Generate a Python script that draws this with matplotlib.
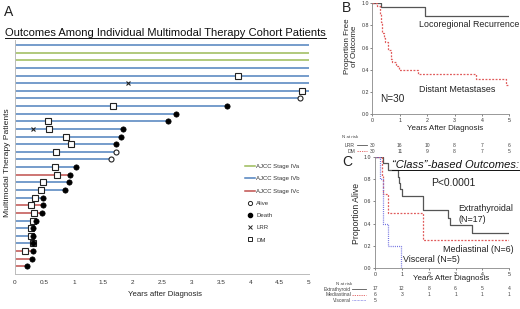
import numpy as np
import matplotlib
matplotlib.use('Agg')
import matplotlib.pyplot as plt
import matplotlib.transforms as mtrans
from matplotlib.lines import Line2D

plt.rcParams['font.family'] = ['Liberation Sans', 'DejaVu Sans']

# ---------------- Panel A data (rows top -> bottom) ----------------
stage = ['IVb', 'IVa', 'IVa', 'IVb', 'IVb', 'IVb', 'IVb', 'IVb', 'IVb', 'IVb',
         'IVb', 'IVb', 'IVb', 'IVb', 'IVb', 'IVb', 'IVb', 'IVc', 'IVb', 'IVb',
         'IVb', 'IVc', 'IVc', 'IVb', 'IVb', 'IVb', 'IVb', 'IVc', 'IVc', 'IVc']
follow_up = [5, 5, 5, 5, 5, 5, 5, 4.85, 3.60, 2.74,
             2.61, 1.84, 1.80, 1.72, 1.72, 1.64, 1.04, 0.94, 0.91, 0.85,
             0.48, 0.47, 0.46, 0.35, 0.31, 0.31, 0.31, 0.30, 0.29, 0.20]
outcome = ['none'] * 7 + ['alive', 'death', 'death', 'death', 'death', 'death', 'death',
                          'alive', 'alive'] + ['death'] * 14
nan = np.nan
dm_time = [nan, nan, nan, nan, 3.80, nan, 4.88, nan, 1.66, nan,
           0.56, 0.58, 0.87, 0.96, 0.69, nan, 0.68, 0.72, 0.48, 0.44,
           0.34, 0.28, 0.33, 0.31, 0.27, 0.27, 0.30, 0.17, nan, nan]
lrr_time = [nan, nan, nan, nan, nan, 1.93, nan, nan, nan, nan,
            nan, 0.31, nan, nan, nan, nan, nan, nan, nan, nan,
            nan, nan, nan, nan, nan, nan, nan, nan, nan, nan]
xticks_A = [0, 0.5, 1, 1.5, 2, 2.5, 3, 3.5, 4, 4.5, 5]

# ---------------- Panel B data ----------------
lrr_t = [0, 0.31, 1.93, 5.0]
lrr_s = [1.0, 0.967, 0.88, 0.88]
dm_t = [0, 0.17, 0.27, 0.30, 0.34, 0.44, 0.48, 0.57, 0.68, 0.72, 0.87, 0.96, 1.66, 3.80, 4.88, 5.0]
dm_s = [1.0, 0.97, 0.90, 0.83, 0.73, 0.69, 0.65, 0.58, 0.50, 0.47, 0.43, 0.40, 0.36, 0.32, 0.26, 0.26]
risk_years = [0, 1, 2, 3, 4, 5]
risk_lrr = [30, 16, 10, 8, 7, 6]
risk_dm = [30, 11, 9, 8, 7, 5]

# ---------------- Panel C data ----------------
ext_t = [0, 0.31, 0.47, 0.84, 0.88, 0.92, 0.99, 1.80, 2.70, 2.78, 3.60, 5.0]
ext_s = [1.0, 0.94, 0.88, 0.82, 0.76, 0.71, 0.65, 0.52, 0.45, 0.39, 0.32, 0.32]
med_t = [0, 0.27, 0.31, 0.47, 1.80, 5.0]
med_s = [1.0, 0.83, 0.67, 0.50, 0.25, 0.25]
vis_t = [0, 0.20, 0.30, 0.47, 0.96]
vis_s = [1.0, 0.80, 0.40, 0.20, 0.0]
risk_ext = [17, 12, 8, 6, 5, 4]
risk_med = [6, 3, 1, 1, 1, 1]
risk_vis = [5]

W, H = 520, 309
fig = plt.figure(figsize=(W / 100, H / 100), dpi=100)
fig.patch.set_facecolor('white')


def ax_px(l, t, r, b):
    return fig.add_axes([l / W, 1 - b / H, (r - l) / W, (b - t) / H])


def fx(px):
    return px / W


def fy(py):
    return 1 - py / H


stage_colors = {'IVa': '#9BBB59', 'IVb': '#4F81BD', 'IVc': '#C0504D'}

# ================= Panel A =================
axA = ax_px(15, 40, 309, 274)
n = len(stage)
ypos = [n - i for i in range(n)]
for i in range(n):
    axA.plot([0, follow_up[i]], [ypos[i], ypos[i]], color=stage_colors[stage[i]],
             lw=1.1, solid_capstyle='butt', zorder=1)
for i in range(n):
    if not np.isnan(dm_time[i]):
        axA.plot(dm_time[i], ypos[i], marker='s', ms=4.2, mfc='white', mec='#222222',
                 mew=0.8, zorder=3, clip_on=False)
    if not np.isnan(lrr_time[i]):
        axA.plot(lrr_time[i], ypos[i], marker='x', ms=3.5, mec='#222222', mew=0.8,
                 zorder=3, clip_on=False)
    if outcome[i] == 'alive':
        axA.plot(follow_up[i], ypos[i], marker='o', ms=3.6, mfc='white', mec='#222222',
                 mew=0.8, zorder=4, clip_on=False)
    elif outcome[i] == 'death':
        axA.plot(follow_up[i], ypos[i], marker='o', ms=3.8, mfc='black', mec='black',
                 mew=0.5, zorder=4, clip_on=False)
axA.set_xlim(0, 5)
axA.set_ylim(0, 30.65)
axA.set_yticks([])
axA.set_xticks(xticks_A)
axA.set_xticklabels([('%g' % v) for v in xticks_A])
axA.tick_params(axis='x', length=0, pad=4, labelsize=4.6, labelcolor='#333333')
for s in ['top', 'right']:
    axA.spines[s].set_visible(False)
axA.spines['left'].set_color('#BBBBBB')
axA.spines['bottom'].set_color('#BBBBBB')
axA.spines['left'].set_linewidth(0.7)
axA.spines['bottom'].set_linewidth(0.7)
axA.patch.set_alpha(0)

fig.text(fx(164.5), fy(294), 'Years after Diagnosis', ha='center', va='center',
         fontsize=5.6, color='#222222')
fig.text(fx(8), fy(163), 'Multimodal Therapy Patients', ha='center', va='center',
         rotation=90, fontsize=6.1, color='#222222')
fig.text(fx(4), fy(12), 'A', ha='left', va='center', fontsize=10, color='#222222')
titleA = fig.text(fx(5), fy(33), 'Outcomes Among Individual Multimodal Therapy Cohort Patients',
                  ha='left', va='center', fontsize=8, color='#111111')

handles = [
    Line2D([], [], color=stage_colors['IVa'], lw=1.1),
    Line2D([], [], color=stage_colors['IVb'], lw=1.1),
    Line2D([], [], color=stage_colors['IVc'], lw=1.1),
    Line2D([], [], ls='none', marker='o', ms=3.0, mfc='white', mec='#222222', mew=0.7),
    Line2D([], [], ls='none', marker='o', ms=3.0, mfc='black', mec='black'),
    Line2D([], [], ls='none', marker='x', ms=3.0, mec='#222222', mew=0.7),
    Line2D([], [], ls='none', marker='s', ms=3.4, mfc='white', mec='#222222', mew=0.7),
]
labels = ['AJCC Stage IVa', 'AJCC Stage IVb', 'AJCC Stage IVc', 'Alive', 'Death', 'LRR', 'DM']
leg = fig.legend(handles, labels, loc='upper left', bbox_to_anchor=(fx(245), fy(164)),
                 frameon=False, fontsize=4.3, handlelength=1.7, handletextpad=0.2,
                 labelspacing=1.18, borderpad=0, borderaxespad=0)
for t in leg.get_texts():
    t.set_color('#333333')


def style_km(ax):
    ax.set_xticks(risk_years)
    ax.set_yticks([0, 0.2, 0.4, 0.6, 0.8, 1.0])
    ax.set_yticklabels(['0.0', '0.2', '0.4', '0.6', '0.8', '1.0'])
    ax.tick_params(labelsize=3.8, length=1.5, width=0.5, pad=1, colors='#555555',
                   labelcolor='#333333')
    for s in ['top', 'right']:
        ax.spines[s].set_visible(False)
    for s in ['left', 'bottom']:
        ax.spines[s].set_color('#888888')
        ax.spines[s].set_linewidth(0.6)
    ax.patch.set_alpha(0)


# ================= Panel B =================
axB = ax_px(372.3, 3, 509.3, 114.3)
axB.step(lrr_t, lrr_s, where='post', color='#555555', lw=0.9)
axB.step(dm_t, dm_s, where='post', color='#E05A5A', lw=0.9, ls=(0, (1.5, 1.2)))
axB.set_xlim(0, 5)
axB.set_ylim(0, 1)
style_km(axB)

fig.text(fx(342), fy(8), 'B', ha='left', va='center', fontsize=10, color='#222222')
fig.text(fx(351), fy(46), 'Proportion Free\nof Outcome', ha='center', va='center',
         rotation=90, fontsize=5.8, color='#222222', linespacing=1.0)
fig.text(fx(445), fy(128), 'Years After Diagnosis', ha='center', va='center',
         fontsize=5.8, color='#222222')
fig.text(fx(419.3), fy(24.5), 'Locoregional Recurrence', ha='left', va='center',
         fontsize=6.4, color='#222222')
fig.text(fx(419.3), fy(89.3), 'Distant Metastases', ha='left', va='center',
         fontsize=6.4, color='#222222')
fig.text(fx(380), fy(99.3), 'N=30', ha='left', va='center', fontsize=7.2, color='#222222')

trB = mtrans.blended_transform_factory(axB.transData, fig.transFigure)
fig.text(fx(342), fy(136.5), 'N at risk', ha='left', va='center', fontsize=3.2, color='#444444')
fig.text(fx(355), fy(145.3), 'LRR', ha='right', va='center', fontsize=3.6, color='#444444')
fig.text(fx(355), fy(151), 'DM', ha='right', va='center', fontsize=3.6, color='#444444')
fig.add_artist(Line2D([fx(357), fx(367)], [fy(145.3)] * 2, transform=fig.transFigure,
                      color='#555555', lw=0.6))
fig.add_artist(Line2D([fx(357), fx(367)], [fy(151)] * 2, transform=fig.transFigure,
                      color='#E05A5A', lw=0.6, ls=(0, (1.5, 1.2))))
for j in range(len(risk_years)):
    axB.text(risk_years[j], fy(145.3), str(risk_lrr[j]), transform=trB, ha='center',
             va='center', fontsize=3.6, color='#444444')
    axB.text(risk_years[j], fy(151), str(risk_dm[j]), transform=trB, ha='center',
             va='center', fontsize=3.6, color='#444444')

# ================= Panel C =================
axC = ax_px(375, 156.7, 509.3, 268.3)
axC.step(ext_t, ext_s, where='post', color='#555555', lw=0.9)
axC.step(med_t, med_s, where='post', color='#E05A5A', lw=0.9, ls=(0, (1.5, 1.2)))
axC.step(vis_t, vis_s, where='post', color='#7070E0', lw=0.9, ls=(0, (0.8, 0.9)))
axC.set_xlim(0, 5)
axC.set_ylim(0, 1)
style_km(axC)

fig.text(fx(342), fy(162), 'C', ha='left', va='center', fontsize=10, color='#222222')
fig.text(fx(356.7), fy(213.3), 'Proportion Alive', ha='center', va='center', rotation=90,
         fontsize=6.2, color='#222222')
fig.text(fx(451.3), fy(279), 'Years After Diagnosis', ha='center', va='center',
         fontsize=5.8, color='#222222')
titleC = fig.text(fx(392.3), fy(165), '\u201cClass\u201d-based Outcomes:', ha='left',
                  va='center', fontsize=8, style='italic', color='#111111')
fig.text(fx(430.7), fy(183.3), 'P<0.0001', ha='left', va='center', fontsize=7.4,
         color='#222222')
fig.text(fx(458.3), fy(208.3), 'Extrathyroidal', ha='left', va='center', fontsize=6.4,
         color='#222222')
fig.text(fx(458.3), fy(220), '(N=17)', ha='left', va='center', fontsize=6.4, color='#222222')
fig.text(fx(443.3), fy(249.3), 'Mediastinal (N=6)', ha='left', va='center', fontsize=6.4,
         color='#222222')
fig.text(fx(403.3), fy(260), 'Visceral (N=5)', ha='left', va='center', fontsize=6.4,
         color='#222222')

trC = mtrans.blended_transform_factory(axC.transData, fig.transFigure)
fig.text(fx(336), fy(284), 'N at risk', ha='left', va='center', fontsize=3.2, color='#444444')
rowsC = [('Extrathyroid', 289, '#555555', '-', risk_ext),
         ('Mediastinal', 294.5, '#E05A5A', (0, (1.5, 1.2)), risk_med),
         ('Visceral', 300, '#7070E0', (0, (0.8, 0.9)), risk_vis)]
for name, py, col, ls, vals in rowsC:
    fig.text(fx(351), fy(py), name, ha='right', va='center', fontsize=3.6, color='#444444')
    fig.add_artist(Line2D([fx(352), fx(366)], [fy(py)] * 2, transform=fig.transFigure,
                          color=col, lw=0.6, ls=ls))
    for j in range(len(vals)):
        axC.text(risk_years[j], fy(py), str(vals[j]), transform=trC, ha='center',
                 va='center', fontsize=3.6, color='#444444')

# underlines
fig.canvas.draw()
r = fig.canvas.get_renderer()
for t in (titleA, titleC):
    bb = t.get_window_extent(r)
    yline = bb.y0 + 0.5
    fig.add_artist(Line2D([bb.x0 / W, bb.x1 / W], [yline / H, yline / H],
                          transform=fig.transFigure, color='#111111', lw=0.7))

fig.savefig('out.png', dpi=100, facecolor='white')
